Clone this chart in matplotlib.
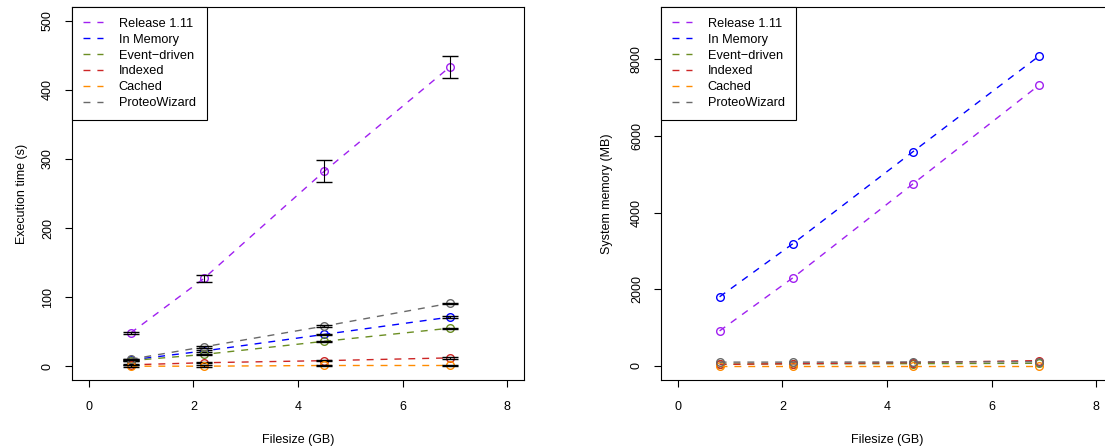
import matplotlib
matplotlib.use('Agg')
from matplotlib import pyplot as plt

plt.rcParams['font.family'] = ['Liberation Sans', 'DejaVu Sans']
plt.rcParams['font.size'] = 9

filesize = [0.8, 2.2, 4.5, 6.9]

names = ['Release 1.11', 'In Memory', 'Event\u2212driven', 'Indexed', 'Cached', 'ProteoWizard']
colors = ['#A020F0', '#0000FF', '#6B8E23', '#CD2626', '#FF8C00', '#696969']

# execution time (s)
time_release = [48, 127, 282, 433]
time_memory = [9, 22, 46, 71]
time_event = [8, 17, 36, 55]
time_indexed = [2, 5, 8, 12]
time_cached = [0, 0, 1, 1]
time_pwiz = [10, 28, 58, 91]

err_release = [1, 5, 16, 16]
err_memory = [1, 1, 1, 1]
err_event = [1, 1, 1, 1]
err_indexed = [1, 1, 1, 1]
err_cached = [1, 1, 1, 1]
err_pwiz = [1, 1, 1, 1]

# system memory (MB)
mem_release = [915, 2300, 4755, 7320]
mem_memory = [1805, 3190, 5595, 8080]
mem_event = [50, 55, 60, 70]
mem_indexed = [40, 60, 90, 140]
mem_cached = [10, 10, 10, 10]
mem_pwiz = [100, 100, 105, 110]

times = [time_release, time_memory, time_event, time_indexed, time_cached, time_pwiz]
errs = [err_release, err_memory, err_event, err_indexed, err_cached, err_pwiz]
mems = [mem_release, mem_memory, mem_event, mem_indexed, mem_cached, mem_pwiz]

fig = plt.figure(figsize=(11.05, 4.47), dpi=100)
W, H = 1105.0, 447.0
ax1 = fig.add_axes([72 / W, (H - 380) / H, 452 / W, 373 / H])
ax2 = fig.add_axes([661 / W, (H - 380) / H, 452 / W, 373 / H])


def style(ax, ylim, yticks):
    ax.set_xlim(-0.32, 8.32)
    ax.set_ylim(*ylim)
    ax.set_xticks([0, 2, 4, 6, 8])
    ax.set_yticks(yticks)
    ax.set_yticklabels([str(t) for t in yticks], rotation=90, va='center')
    ax.tick_params(direction='out', length=5, width=0.8, labelsize=9)
    ax.tick_params(axis='x', pad=10)
    ax.tick_params(axis='y', pad=8)
    for s in ax.spines.values():
        s.set_linewidth(0.8)
    ax.set_xlabel('Filesize (GB)', labelpad=15)


for ys, e, c, n in zip(times, errs, colors, names):
    ax1.plot(filesize, ys, linestyle=(0, (5, 5)), color=c, lw=1, label=n)
    ax1.plot(filesize, ys, 'o', mfc='none', mec=c, ms=5.5, mew=1)
    ax1.errorbar(filesize, ys, yerr=e, fmt='none', ecolor='black', elinewidth=0.8,
                 capsize=6, capthick=1)

style(ax1, (-20, 520), [0, 100, 200, 300, 400, 500])
ax1.set_ylabel('Execution time (s)', labelpad=10)

for ys, c, n in zip(mems, colors, names):
    ax2.plot(filesize, ys, linestyle=(0, (5, 5)), color=c, lw=1, label=n)
    ax2.plot(filesize, ys, 'o', mfc='none', mec=c, ms=5.5, mew=1)

style(ax2, (-366, 9366), [0, 2000, 4000, 6000, 8000])
ax2.set_ylabel('System memory (MB)', labelpad=13)

for ax in (ax1, ax2):
    leg = ax.legend(loc='upper left', borderaxespad=0, fancybox=False,
                    edgecolor='black', framealpha=1, handlelength=1.6,
                    handletextpad=1.2, labelspacing=0.3, borderpad=0.85,
                    fontsize=9.2)
    leg.get_frame().set_linewidth(0.8)

fig.savefig('out.png', dpi=100)
